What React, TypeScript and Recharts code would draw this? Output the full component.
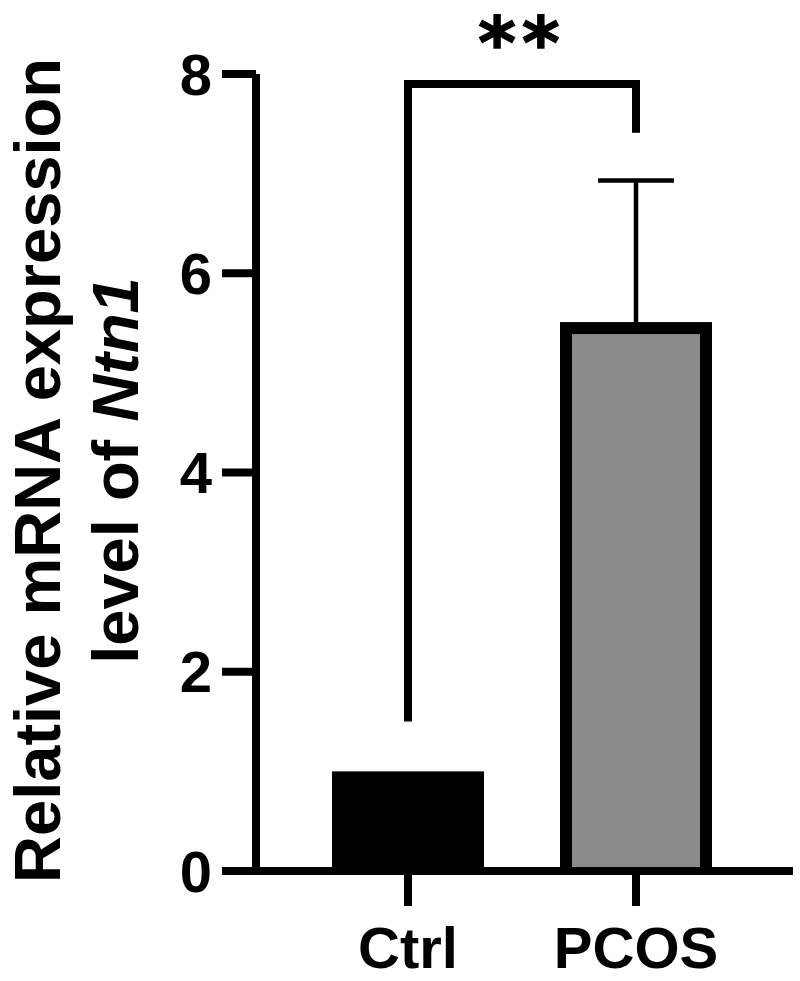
import React from 'react';
import { BarChart, Bar, XAxis, YAxis, ErrorBar, ReferenceLine } from 'recharts';

const categories = ['Ctrl', 'PCOS'];
const means = [1.0, 5.51];
const errLower = [0, 0.03];
const errUpper: (number | null)[] = [null, 1.42];
const yTicks = [0, 2, 4, 6, 8];
const bracketY = 7.9;
const bracketLeftBottom = 1.5;
const bracketRightBottom = 7.41;
const sigLabel = '**';
const titleLine1 = 'Relative mRNA expression';
const titleLine2a = 'level of ';
const titleLine2b = 'Ntn1';

const data = categories.map((c, i) => ({
  name: c,
  value: means[i],
  err: errUpper[i] == null ? null : [errLower[i], errUpper[i] as number],
}));

const FONT = '"Liberation Sans", Arial, sans-serif';
const STAR_FONT = '"DejaVu Sans", "Liberation Sans", sans-serif';
const barStyles = [
  { fill: '#000000', border: 0 },
  { fill: '#8a8a8a', border: 12 },
];

const BarShape = (props: any) => {
  const { x, y, width, height, index } = props;
  const st = barStyles[index] || barStyles[0];
  return (
    <g>
      <rect x={x} y={y} width={width} height={height} fill="#000" />
      {st.border > 0 && (
        <rect
          x={x + st.border}
          y={y + st.border}
          width={Math.max(0, width - 2 * st.border)}
          height={Math.max(0, height - st.border)}
          fill={st.fill}
        />
      )}
    </g>
  );
};

const TitleLabel = (props: any) => {
  const vb = props.viewBox || { x: 0, y: 74, width: 256, height: 797 };
  const cy = vb.y + vb.height / 2 - 2;
  return (
    <text
      transform="rotate(-90)"
      textAnchor="middle"
      fontFamily={FONT}
      fontWeight="bold"
      fontSize={65}
      fill="#000"
    >
      <tspan x={-cy} y={60}>{titleLine1}</tspan>
      <tspan x={-cy} y={138}>
        {titleLine2a}
        <tspan fontStyle="italic">{titleLine2b}</tspan>
      </tspan>
    </text>
  );
};

const StarsLabel = (props: any) => {
  const vb = props.viewBox || { x: 408, y: 84, width: 228, height: 0 };
  const cx = vb.x + (vb.width || 0) / 2;
  return (
    <text
      x={cx}
      y={vb.y - 16}
      textAnchor="middle"
      fontFamily={STAR_FONT}
      fontWeight="bold"
      fontSize={72}
      fill="#000"
      stroke="#000"
      strokeWidth={1.5}
      letterSpacing={6}
    >
      {sigLabel}
    </text>
  );
};

export default function App() {
  return (
    <div style={{ position: 'absolute', left: 0, top: 0, background: '#fff' }}>
      <BarChart
        width={800}
        height={981}
        data={data}
        margin={{ top: 74, right: 7, bottom: 0, left: 0 }}
      >
        <XAxis
          dataKey="name"
          type="category"
          padding={{ left: 38, right: 43 }}
          axisLine={{ stroke: '#000', strokeWidth: 8 }}
          tickLine={{ stroke: '#000', strokeWidth: 8 }}
          tickSize={35}
          tickMargin={21}
          tick={{ fill: '#000', fontSize: 58, fontWeight: 'bold', fontFamily: FONT }}
          height={110}
        />
        <YAxis
          domain={[0, 8]}
          ticks={yTicks}
          interval={0}
          width={256}
          axisLine={{ stroke: '#000', strokeWidth: 8 }}
          tickLine={{ stroke: '#000', strokeWidth: 8 }}
          tickSize={34}
          tickMargin={10}
          tick={{ fill: '#000', fontSize: 58, fontWeight: 'bold', fontFamily: FONT }}
          label={TitleLabel}
        />
        <Bar dataKey="value" barSize={152} isAnimationActive={false} shape={BarShape}>
          <ErrorBar dataKey="err" width={38} strokeWidth={4.5} stroke="#000" direction="y" />
        </Bar>
        <ReferenceLine
          segment={[{ x: categories[0], y: bracketLeftBottom }, { x: categories[0], y: bracketY }]}
          stroke="#000"
          strokeWidth={8}
          ifOverflow="extendDomain"
        />
        <ReferenceLine
          segment={[{ x: categories[1], y: bracketRightBottom }, { x: categories[1], y: bracketY }]}
          stroke="#000"
          strokeWidth={8}
          ifOverflow="extendDomain"
        />
        <ReferenceLine
          segment={[{ x: categories[0], y: bracketY }, { x: categories[1], y: bracketY }]}
          stroke="#000"
          strokeWidth={8}
          strokeLinecap="square"
          ifOverflow="extendDomain"
          label={StarsLabel}
        />
      </BarChart>
    </div>
  );
}
